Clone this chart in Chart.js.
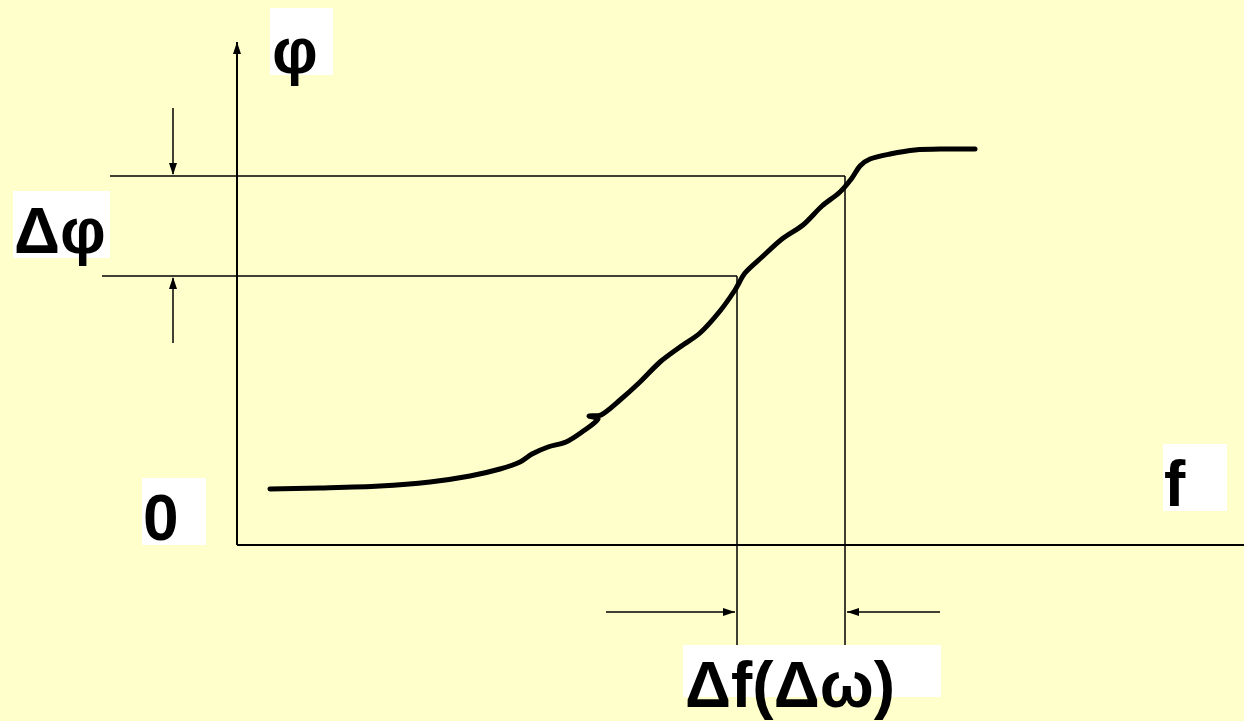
<!DOCTYPE html>
<html>
<head>
<meta charset="utf-8">
<script src="https://cdn.jsdelivr.net/npm/chart.js@4.4.1/dist/chart.umd.min.js"></script>
<style>
  html, body { margin: 0; padding: 0; background: #FFFFCC; }
  #wrap { width: 1244px; height: 721px; position: relative; }
</style>
</head>
<body>
<div id="wrap"><canvas id="myChart"></canvas></div>
<script>
// phase response curve phi(f) (origin = axes corner)
const fValues   = [33, 83, 143, 193, 233, 263, 283, 295, 311, 329, 345, 361, 352, 364, 383, 403, 423, 443, 463, 483, 498, 508, 525, 545, 566, 585, 603, 615, 623, 633, 653, 678, 708, 738];
const phiValues = [56, 57, 59, 63, 69, 76, 83, 91, 98, 103, 113, 126, 129, 130, 145, 163, 183, 198, 212, 234, 255, 272, 288, 306, 320, 339, 353, 367, 379, 386, 391, 395, 396, 396];

// the two phase levels (delta phi) and the two frequencies (delta f)
const phiLevels = [269, 369];
const fLevels = [500, 608];

// axis range
const fRange = [-237, 1007];
const phiRange = [-176, 545];

const labelTexts = { phi: 'φ', dphi: 'Δφ', zero: '0', f: 'f', df: 'Δf(Δω)' };

const curve = fValues.map((f, i) => ({ x: f, y: phiValues[i] }));

const guide = (pts) => ({
  data: pts, showLine: true, pointRadius: 0, borderColor: '#000', borderWidth: 1.5, tension: 0
});

const ctx = document.getElementById('myChart');

// draws axes, arrows and the white label boxes
const sketchPlugin = {
  id: 'sketch',
  afterDatasetsDraw(chart) {
    const c = chart.ctx;
    const xs = chart.scales.x, ys = chart.scales.y;
    const px = v => xs.getPixelForValue(v);
    const py = v => ys.getPixelForValue(v);

    c.save();
    c.strokeStyle = '#000';
    c.fillStyle = '#000';

    const line = (x1, y1, x2, y2, w) => {
      c.lineWidth = w;
      c.beginPath(); c.moveTo(x1, y1); c.lineTo(x2, y2); c.stroke();
    };
    const head = (x, y, dir, len, half) => {
      // dir: 'up' 'down' 'left' 'right', (x,y) = tip
      c.beginPath();
      c.moveTo(x, y);
      if (dir === 'up') { c.lineTo(x - half, y + len); c.lineTo(x + half, y + len); }
      if (dir === 'down') { c.lineTo(x - half, y - len); c.lineTo(x + half, y - len); }
      if (dir === 'left') { c.lineTo(x + len, y - half); c.lineTo(x + len, y + half); }
      if (dir === 'right') { c.lineTo(x - len, y - half); c.lineTo(x - len, y + half); }
      c.closePath(); c.fill();
    };

    // axes
    const ox = px(0), oy = py(0);
    line(ox, oy, ox, py(phiRange[1] - 42), 2);
    head(ox, py(phiRange[1] - 42), 'up', 12, 4);
    line(ox, oy, px(fRange[1]), oy, 2);

    // delta phi arrows
    const ax = px(-64);
    line(ax, py(437), ax, py(phiLevels[1]) - 2, 1.5);
    head(ax, py(phiLevels[1]) - 1, 'down', 12, 4);
    line(ax, py(202), ax, py(phiLevels[0]) + 2, 1.5);
    head(ax, py(phiLevels[0]) + 1, 'up', 12, 4);

    // delta f arrows
    const ay = py(-67);
    line(px(369), ay, px(fLevels[0]) - 2, ay, 1.5);
    head(px(fLevels[0]) - 2, ay, 'right', 12, 4);
    line(px(703), ay, px(fLevels[1]) + 2, ay, 1.5);
    head(px(fLevels[1]) + 2, ay, 'left', 12, 4);

    // labels on white boxes
    c.font = 'bold 64px "Liberation Sans", Arial, sans-serif';
    c.textBaseline = 'alphabetic';
    const boxes = [
      { t: labelTexts.phi,  box: [33, 537, 63, 67],  tx: 35, ty: 472 },
      { t: labelTexts.dphi, box: [-224, 354, 97, 67], tx: -223, ty: 292 },
      { t: labelTexts.zero, box: [-95, 67, 64, 67],  tx: -94, ty: 5 },
      { t: labelTexts.f,    box: [926, 101, 64, 67], tx: 927, ty: 39 },
      { t: labelTexts.df,   box: [446, -100, 258, 52], tx: 448, ty: -162 }
    ];
    boxes.forEach(b => {
      c.fillStyle = '#fff';
      c.fillRect(px(b.box[0]), py(b.box[1]), b.box[2], b.box[3]);
    });
    boxes.forEach(b => {
      c.fillStyle = '#000';
      c.fillText(b.t, px(b.tx), py(b.ty));
    });
    c.restore();
  }
};

const myChart = new Chart(ctx, {
  type: 'scatter',
  data: {
    datasets: [
      {
        data: curve, showLine: true, pointRadius: 0,
        borderColor: '#000', borderWidth: 5, tension: 0.3,
        borderCapStyle: 'round', borderJoinStyle: 'round'
      },
      guide([{ x: -127, y: phiLevels[1] }, { x: fLevels[1], y: phiLevels[1] }]),
      guide([{ x: -135, y: phiLevels[0] }, { x: fLevels[0], y: phiLevels[0] }]),
      guide([{ x: fLevels[0], y: phiLevels[0] }, { x: fLevels[0], y: -105 }]),
      guide([{ x: fLevels[1], y: phiLevels[1] }, { x: fLevels[1], y: -105 }])
    ]
  },
  options: {
    responsive: true,
    maintainAspectRatio: false,
    animation: false,
    layout: { padding: 0 },
    plugins: { legend: { display: false }, tooltip: { enabled: false } },
    scales: {
      x: { type: 'linear', min: fRange[0], max: fRange[1], display: false },
      y: { type: 'linear', min: phiRange[0], max: phiRange[1], display: false }
    }
  },
  plugins: [sketchPlugin]
});
</script>
</body>
</html>
